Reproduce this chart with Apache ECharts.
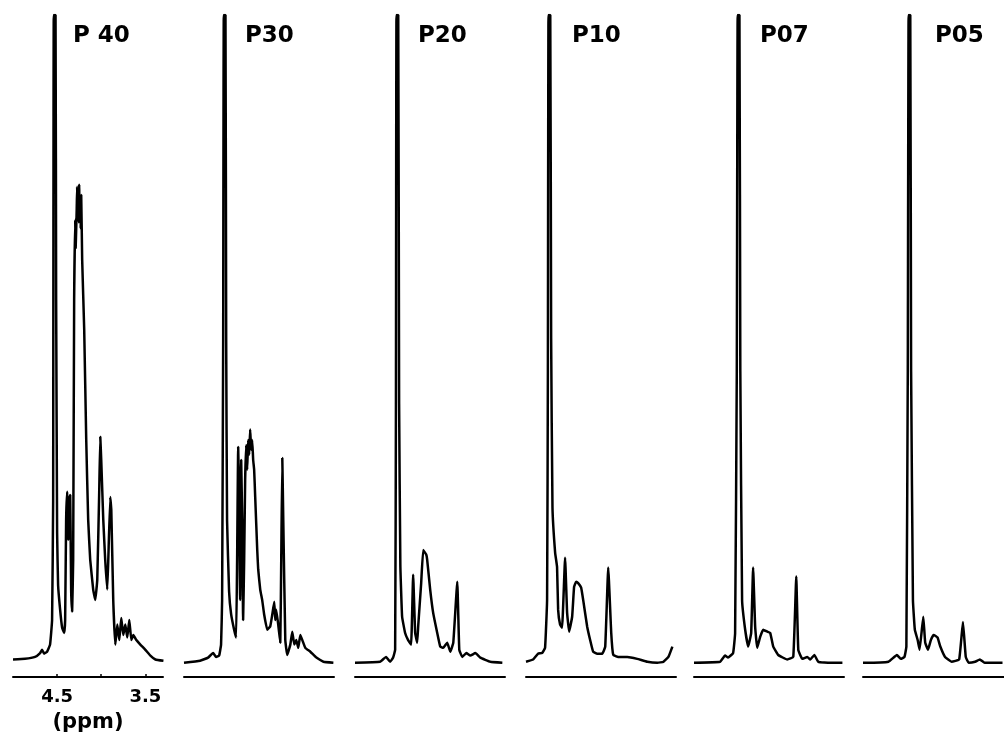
<!DOCTYPE html>
<html>
<head>
<meta charset="utf-8">
<script src="https://cdn.jsdelivr.net/npm/echarts@6/dist/echarts.min.js"></script>
<style>
html, body { margin: 0; padding: 0; background: #fff; }
#nmr { width: 1004px; height: 739px; }
</style>
</head>
<body>
<div id="nmr"></div>
<script>
// sample names, one per trace
var samples = ["P 40", "P30", "P20", "P10", "P07", "P05"];
// shift ticks (ppm), only the first trace carries them
var tickPpm = [4.5, 4.0, 3.5];
var labelPpm = [4.5, 3.5];

// [shift (ppm), intensity (% of full height)]
var p40 = [[5.000,0.5],[4.864,0.6],[4.750,0.9],[4.693,1.5],[4.670,2.0],[4.648,1.4],[4.614,1.7],[4.580,2.8],[4.557,6.6],[4.545,25],[4.538,100],[4.518,100],[4.511,56],[4.500,20],[4.489,12],[4.466,8.2],[4.443,5.4],[4.420,4.6],[4.409,6.6],[4.398,22],[4.386,26.4],[4.375,19],[4.364,25.2],[4.352,25.9],[4.341,11.3],[4.330,7.9],[4.318,15.9],[4.307,56],[4.295,68.4],[4.290,64],[4.284,66.8],[4.278,70],[4.273,73.5],[4.267,69],[4.261,71.5],[4.255,68],[4.250,73.8],[4.245,68],[4.239,71.5],[4.233,67],[4.227,72.2],[4.216,62.2],[4.193,51.4],[4.170,34.4],[4.148,22.1],[4.125,15.9],[4.091,11.3],[4.068,9.7],[4.045,12.8],[4.023,26.4],[4.011,34.9],[4.000,31.3],[3.977,22.1],[3.955,15.9],[3.932,11.3],[3.920,15.9],[3.898,25.6],[3.886,23.6],[3.864,9.7],[3.841,2.8],[3.818,5.9],[3.795,3.5],[3.773,6.9],[3.750,4.3],[3.727,5.9],[3.705,3.9],[3.682,6.6],[3.659,3.5],[3.636,4.3],[3.602,3.5],[3.557,2.8],[3.500,2.0],[3.443,1.1],[3.386,0.5],[3.295,0.3]];
var p30 = [[5.000,0],[4.818,0.3],[4.727,0.8],[4.670,1.5],[4.636,0.9],[4.602,1.1],[4.580,2.8],[4.568,9.7],[4.556,50],[4.549,100],[4.530,100],[4.522,50],[4.512,22],[4.489,11],[4.466,7.5],[4.432,5.1],[4.409,3.9],[4.398,15.9],[4.386,33.3],[4.375,25.2],[4.364,9.7],[4.352,31.3],[4.341,22.1],[4.330,6.6],[4.318,15.9],[4.307,28.2],[4.295,33.6],[4.284,29.8],[4.273,34.4],[4.261,32.1],[4.250,36.0],[4.239,32.9],[4.227,34.4],[4.216,31.3],[4.205,29.8],[4.193,25.6],[4.170,17.4],[4.159,14.4],[4.136,11.3],[4.114,9.7],[4.091,7.4],[4.057,5.1],[4.023,5.6],[4.000,7.4],[3.977,9.4],[3.966,6.6],[3.955,8.2],[3.932,5.9],[3.909,3.1],[3.898,15.9],[3.886,31.6],[3.875,22.1],[3.852,3.5],[3.830,1.2],[3.795,2.8],[3.773,4.8],[3.750,2.8],[3.727,3.5],[3.705,2.3],[3.682,4.3],[3.659,3.5],[3.625,2.3],[3.568,1.7],[3.500,0.8],[3.420,0.15],[3.307,0]];
var p20 = [[5.000,0],[4.716,0.15],[4.648,0.9],[4.602,0.15],[4.568,0.8],[4.545,2],[4.536,40],[4.530,100],[4.510,100],[4.500,40],[4.486,15],[4.466,7.1],[4.432,4.6],[4.398,3.5],[4.364,2.8],[4.341,13.6],[4.318,4.6],[4.295,3.1],[4.284,5.6],[4.250,12.3],[4.227,17.4],[4.193,16.7],[4.182,15.9],[4.148,11.3],[4.114,7.7],[4.068,4.6],[4.034,2.5],[4.000,2.3],[3.955,3.1],[3.920,1.7],[3.886,3.1],[3.841,12.5],[3.818,2.0],[3.784,0.9],[3.739,1.5],[3.693,1.1],[3.636,1.5],[3.580,0.8],[3.466,0.15],[3.330,0]];
var p10 = [[5.000,0.15],[4.920,0.5],[4.864,1.4],[4.818,1.5],[4.784,2.3],[4.761,9.7],[4.752,45],[4.745,100],[4.725,100],[4.715,50],[4.700,24],[4.670,17],[4.648,14.8],[4.636,8.2],[4.614,5.9],[4.591,5.4],[4.557,16.2],[4.534,7.7],[4.511,4.8],[4.477,7.1],[4.455,11.7],[4.432,12.5],[4.409,12.3],[4.375,11.6],[4.352,9.7],[4.307,5.6],[4.273,3.5],[4.239,1.7],[4.193,1.4],[4.136,1.4],[4.102,2.5],[4.068,14.7],[4.034,4.6],[4.011,1.2],[3.955,0.9],[3.852,0.9],[3.739,0.6],[3.625,0.15],[3.511,0],[3.443,0.15],[3.386,0.9],[3.341,2.5]];
var p07 = [[5.000,0],[4.705,0.15],[4.648,1.1],[4.614,0.8],[4.557,1.5],[4.534,4.6],[4.515,45],[4.505,100],[4.485,100],[4.475,45],[4.455,9.7],[4.420,5.1],[4.386,2.5],[4.352,4.6],[4.330,14.7],[4.307,5.6],[4.284,2.3],[4.250,4.0],[4.216,5.1],[4.170,4.8],[4.136,4.6],[4.102,2.5],[4.045,1.2],[3.943,0.5],[3.875,0.9],[3.841,13.3],[3.818,2.0],[3.773,0.6],[3.716,0.9],[3.682,0.5],[3.636,1.2],[3.591,0.15],[3.455,0],[3.318,0]];
var p05 = [[5.000,0],[4.977,0],[4.693,0.15],[4.591,1.2],[4.545,0.6],[4.500,0.9],[4.477,2.5],[4.460,45],[4.450,100],[4.430,100],[4.420,45],[4.398,9.7],[4.386,7],[4.375,5.1],[4.341,3.5],[4.318,2.0],[4.273,7.1],[4.250,3.1],[4.216,2.0],[4.182,3.5],[4.148,4.3],[4.102,3.9],[4.068,2.5],[4.011,0.9],[3.932,0.15],[3.841,0.5],[3.795,6.3],[3.761,0.9],[3.727,0],[3.648,0.15],[3.591,0.5],[3.534,0],[3.398,0],[3.318,0]];
var spectra = [p40, p30, p20, p10, p07, p05];

var myChart = echarts.init(document.getElementById("nmr"));

var panelLeft = [13, 184, 355, 526, 694, 863];
var nameLeft = [68, 240, 413, 567, 755, 930];
var font = "DejaVu Sans";

var grids = [], xAxes = [], yAxes = [], series = [], titles = [];
for (var i = 0; i < spectra.length; i++) {
    grids.push({ left: panelLeft[i], width: 150, top: 15, bottom: 62 });
    var first = i === 0;
    xAxes.push({
        type: "value",
        gridIndex: i,
        min: 3.3,
        max: 5.0,
        inverse: true,
        splitLine: { show: false },
        axisLine: { show: true, onZero: false, lineStyle: { color: "#000", width: 2 } },
        axisTick: first ? { show: true, inside: true, length: 3, customValues: tickPpm, lineStyle: { color: "#000", width: 1.5 } } : { show: false },
        axisLabel: first ? {
            show: true, customValues: labelPpm, margin: 11,
            color: "#000", fontSize: 18, fontWeight: "bold", fontFamily: font,
            formatter: function (v) { return v.toFixed(1); }
        } : { show: false },
        name: first ? "(ppm)" : "",
        nameLocation: "middle",
        nameGap: 35,
        nameTextStyle: { color: "#000", fontSize: 21, fontWeight: "bold", fontFamily: font }
    });
    yAxes.push({ type: "value", gridIndex: i, min: -2.2, max: 100, show: false });
    series.push({
        type: "line",
        name: samples[i],
        xAxisIndex: i,
        yAxisIndex: i,
        data: spectra[i],
        showSymbol: false,
        smooth: 0.1,
        clip: true,
        lineStyle: { color: "#000", width: 2.5 }
    });
    titles.push({
        text: samples[i],
        left: nameLeft[i],
        top: 20,
        textStyle: { color: "#000", fontSize: 23, fontWeight: "bold", fontFamily: font }
    });
}

var option = {
    backgroundColor: "#fff",
    animation: false,
    title: titles,
    grid: grids,
    xAxis: xAxes,
    yAxis: yAxes,
    series: series
};
myChart.setOption(option);
</script>
</body>
</html>
